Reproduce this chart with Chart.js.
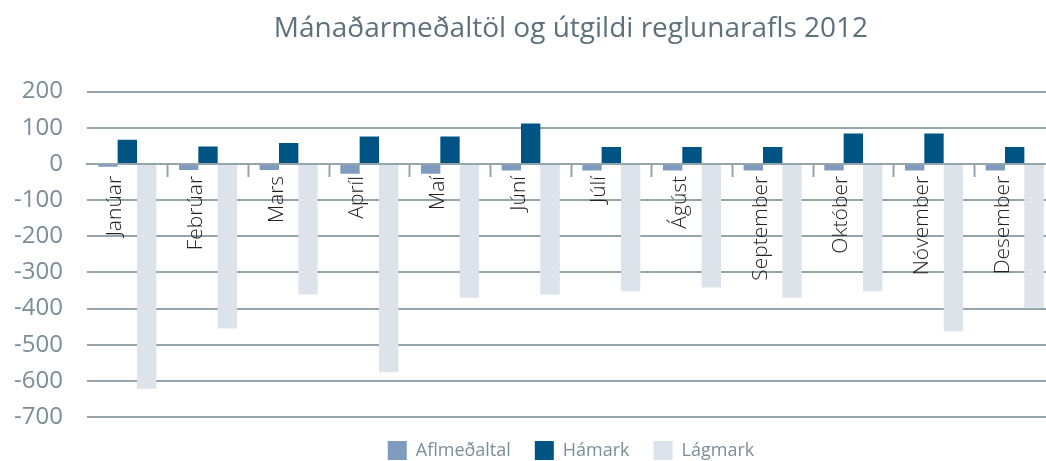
<!DOCTYPE html>
<html>
<head>
<meta charset="utf-8">
<script src="https://cdn.jsdelivr.net/npm/chart.js@4"></script>
<style>
html, body { margin: 0; padding: 0; background: #fff; overflow: hidden; }
#wrap { width: 1055px; height: 461px; }
</style>
</head>
<body>
<div id="wrap"><canvas id="chart" width="1055" height="461"></canvas></div>
<script>
const months = ['Janúar','Febrúar','Mars','Apríl','Maí','Júní','Júlí','Ágúst','September','Október','Nóvember','Desember'];
const aflmedaltal = [-8,-17,-17,-27,-27,-18,-18,-18,-18,-18,-18,-18];
const hamark = [67,48,58,76,76,112,47,47,47,84,84,47];
const lagmark = [-622,-455,-361,-576,-370,-362,-352,-342,-370,-352,-463,-398];

const gridColor = '#95a5ac';
const ctx = document.getElementById('chart');

new Chart(ctx, {
type: 'bar',
data: {
labels: months,
datasets: [
{ label: 'Aflmeðaltal', data: aflmedaltal, backgroundColor: '#7f9cc0', borderWidth: 0 },
{ label: 'Hámark', data: hamark, backgroundColor: '#005484', borderWidth: 0 },
{ label: 'Lágmark', data: lagmark, backgroundColor: '#dce3ea', borderWidth: 0 }
]
},
options: {
responsive: false,
animation: false,
layout: { padding: { left: 0, right: 0, top: 0, bottom: -9 } },
datasets: { bar: { categoryPercentage: 0.72, barPercentage: 1 } },
scales: {
x: {
position: { y: 0 },
offset: true,
// rotated labels sit on the zero line, they need no side padding
afterFit: (s) => { s.paddingLeft = 0; s.paddingRight = 0; },
grid: {
offset: true,
drawOnChartArea: false,
drawTicks: true,
tickLength: 12,
tickWidth: 2,
tickColor: (c) => (c.index === 0 || c.index >= 12) ? 'rgba(0,0,0,0)' : gridColor
},
border: { display: true, color: gridColor, width: 2 },
ticks: {
autoSkip: false,
minRotation: 90,
maxRotation: 90,
padding: 0,
labelOffset: -12,
color: '#222',
font: { family: 'Open Sans', size: 21, weight: 300 }
}
},
y: {
min: -700,
max: 200,
afterFit: (s) => { s.width = 87; },
ticks: {
stepSize: 100,
padding: 24,
color: '#7a8e98',
font: { family: 'Open Sans', size: 24 }
},
grid: { color: gridColor, lineWidth: 2, drawTicks: false },
border: { display: false }
}
},
plugins: {
title: {
display: true,
text: 'Mánaðarmeðaltöl og útgildi reglunarafls 2012',
fullSize: false,
color: '#5d717d',
font: { family: 'Open Sans', size: 28, weight: 500 },
padding: { top: 12, bottom: 46 }
},
legend: {
position: 'bottom',
fullSize: false,
labels: {
boxWidth: 19,
boxHeight: 19,
padding: 24,
color: '#7b8e98',
font: { family: 'Open Sans', size: 18 }
}
},
tooltip: { enabled: false }
}
}
});
</script>
</body>
</html>
